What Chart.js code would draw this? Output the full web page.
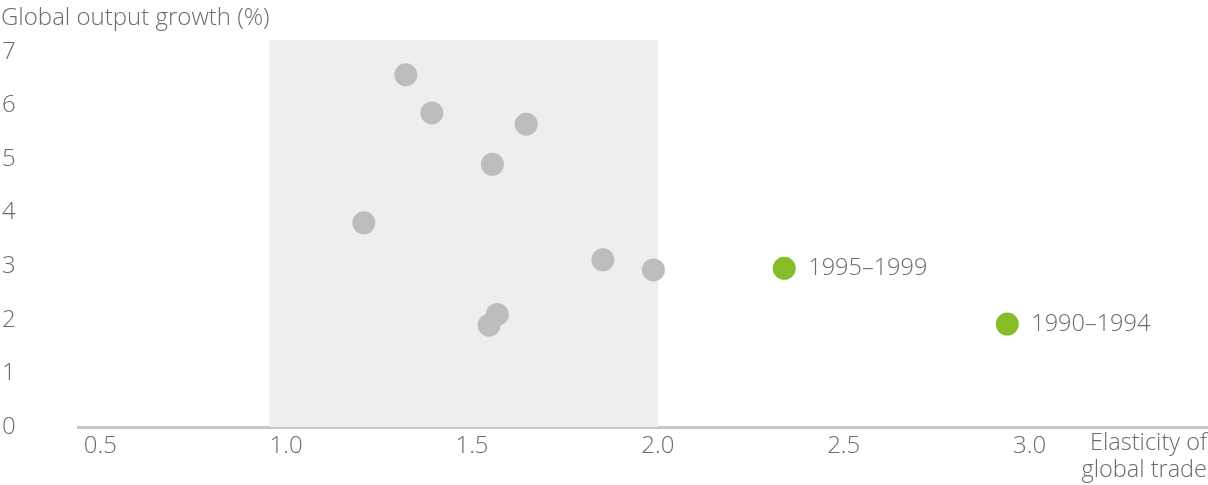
<!DOCTYPE html>
<html>
<head>
<meta charset="utf-8">
<script src="https://cdn.jsdelivr.net/npm/chart.js@4/dist/chart.umd.min.js"></script>
<style>
  html, body { margin: 0; padding: 0; background: #fff; overflow: hidden; }
  #wrap { width: 1208px; height: 485px; position: relative; }
</style>
</head>
<body>
<div id="wrap"><canvas id="chart"></canvas></div>
<script>
// grey: other five-year periods, green: the two highlighted periods
const greyX = [1.322, 1.392, 1.646, 1.555, 1.209, 1.852, 1.988, 1.568, 1.546];
const greyY = [6.57, 5.86, 5.65, 4.90, 3.81, 3.12, 2.93, 2.10, 1.90];
const greenX = [2.340, 2.940];
const greenY = [2.96, 1.92];
const greenLabels = ['1995–1999', '1990–1994'];
const xTicks = [0.5, 1.0, 1.5, 2.0, 2.5, 3.0];
const yTicks = [0, 1, 2, 3, 4, 5, 6, 7];
const shadeRange = [0.955, 2.0];

const FONT = '"Open Sans", sans-serif';
const TEXT = '#6b6b6b';

const shadePlugin = {
  id: 'shade',
  beforeDatasetsDraw(chart) {
    const { ctx, scales: { x, y } } = chart;
    const x0 = x.getPixelForValue(shadeRange[0]);
    const x1 = x.getPixelForValue(shadeRange[1]);
    ctx.save();
    ctx.fillStyle = '#eeeeee';
    ctx.fillRect(x0, y.top, x1 - x0, y.bottom - y.top);
    ctx.restore();
  }
};

const textPlugin = {
  id: 'texts',
  afterDraw(chart) {
    const { ctx } = chart;
    ctx.save();
    ctx.font = '300 23.5px ' + FONT;
    ctx.fillStyle = TEXT;
    ctx.textBaseline = 'middle';

    // point labels
    const meta = chart.getDatasetMeta(1);
    meta.data.forEach((pt, i) => {
      ctx.textAlign = 'left';
      ctx.fillText(greenLabels[i], pt.x + 24, pt.y);
    });

    // axis titles
    ctx.textAlign = 'right';
    ctx.fillText('Elasticity of', 1207, 443);
    ctx.fillText('global trade', 1207, 470);
    ctx.font = '300 24px ' + FONT;
    ctx.textAlign = 'left';
    ctx.fillText('Global output growth (%)', 1, 18);
    ctx.restore();
  }
};

new Chart(document.getElementById('chart'), {
  type: 'scatter',
  data: {
    datasets: [
      {
        data: greyX.map((v, i) => ({ x: v, y: greyY[i] })),
        backgroundColor: '#bcbdbc',
        borderWidth: 0,
        pointRadius: 11.5,
        pointHoverRadius: 11.5
      },
      {
        data: greenX.map((v, i) => ({ x: v, y: greenY[i] })),
        backgroundColor: '#86bc25',
        borderWidth: 0,
        pointRadius: 11.5,
        pointHoverRadius: 11.5
      }
    ]
  },
  plugins: [shadePlugin, textPlugin],
  options: {
    responsive: true,
    maintainAspectRatio: false,
    animation: false,
    events: [],
    clip: false,
    layout: { autoPadding: false, padding: { left: 2, top: 40, right: 0, bottom: 0 } },
    plugins: { legend: { display: false }, tooltip: { enabled: false } },
    scales: {
      x: {
        type: 'linear',
        min: 0.44,
        max: 3.48,
        afterBuildTicks: s => { s.ticks = xTicks.map(v => ({ value: v })); },
        afterFit: s => { s.height = 58; s.paddingRight = 0; s.paddingLeft = 0; },
        grid: { display: false },
        border: { display: true, color: '#c6c6c6', width: 3 },
        ticks: {
          color: TEXT,
          font: { family: FONT, size: 24, weight: 300 },
          padding: -3,
          maxRotation: 0,
          autoSkip: false,
          callback: v => v.toFixed(1)
        }
      },
      y: {
        type: 'linear',
        min: 0,
        max: 7.22,
        afterBuildTicks: s => { s.ticks = yTicks.map(v => ({ value: v })); },
        afterFit: s => { s.width = 76; s.paddingTop = 0; s.paddingBottom = 0; },
        grid: { display: false },
        border: { display: false },
        ticks: {
          color: TEXT,
          font: { family: FONT, size: 24, weight: 300 },
          crossAlign: 'far',
          padding: 0,
          callback: v => String(v)
        }
      }
    }
  }
});
</script>
</body>
</html>
